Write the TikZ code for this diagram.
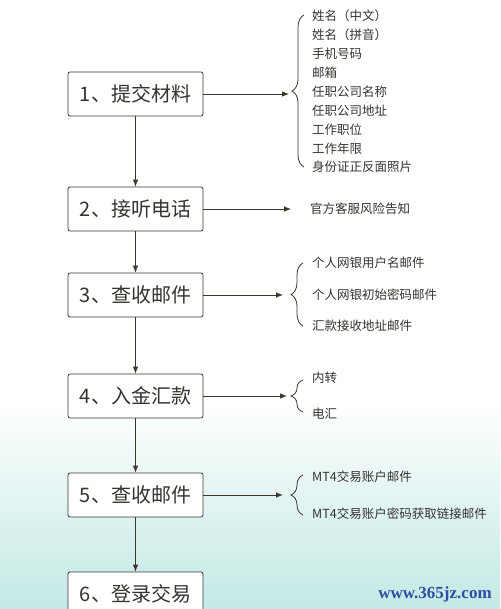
\documentclass[tikz,border=0pt]{standalone}
\usepackage{fontspec}
\newfontfamily\cjk{Noto Sans CJK SC}
\newfontfamily\wmfont{Liberation Serif}
\usetikzlibrary{arrows.meta,decorations.pathreplacing}
\definecolor{lineclr}{HTML}{3A372C}
\definecolor{txtclr}{HTML}{35342F}
\definecolor{topclr}{HTML}{CDF2EA}
\definecolor{botclr}{HTML}{9FDCD5}
\definecolor{wmclr}{HTML}{2D4FA3}
\pgfdeclareverticalshading{bgshade}{100bp}{color(0bp)=(botclr); color(18bp)=(botclr!85!white); color(30bp)=(botclr!45!white); color(42bp)=(white); color(78bp)=(white); color(100bp)=(topclr)}
\tikzset{
  stepbox/.style={draw=lineclr, line width=0.8pt, rounded corners=2pt, fill=white,
    minimum width=135pt, minimum height=44pt, inner sep=0pt,
    font=\cjk\fontsize{20}{24}\selectfont, text=txtclr},
  item/.style={anchor=west, inner sep=0pt, font=\cjk\fontsize{12.5}{15}\selectfont, text=txtclr},
  flow/.style={draw=lineclr, line width=0.8pt, -{Latex[length=7pt,width=5.5pt]}},
  curly/.style={draw=lineclr, line width=0.8pt, decorate, decoration={brace, amplitude=12pt}},
}
\begin{document}
\begin{tikzpicture}[x=1pt,y=-1pt]
    \useasboundingbox (0,0) rectangle (500,609);
    \fill[shading=bgshade] (0,0) rectangle (500,609);

    % steps
    \node[stepbox] (s1) at (135.5,94)  {1、提交材料};
    \node[stepbox] (s2) at (135.5,209) {2、接听电话};
    \node[stepbox] (s3) at (135.5,295) {3、查收邮件};
    \node[stepbox] (s4) at (135.5,396) {4、入金汇款};
    \node[stepbox] (s5) at (135.5,495) {5、查收邮件};
    \node[stepbox] (s6) at (135.5,594) {6、登录交易};
    \foreach \a/\b in {s1/s2,s2/s3,s3/s4,s4/s5,s5/s6}
        \draw[flow] (\a.south) -- (\b.north);

    % step 1
    \coordinate (a1) at (289,94);
    \draw[flow] (s1.east) -- (a1);
    \draw[curly] (304,167) -- (304,15);
    \foreach \txt [count=\i] in {姓名（中文）,姓名（拼音）,手机号码,邮箱,任职公司名称,任职公司地址,工作职位,工作年限,身份证正反面照片}
        \node[item] (m\i) at (312,{16+18.9*(\i-1)}) {\txt};

    % step 2
    \coordinate (a2) at (291,209);
    \draw[flow] (s2.east) -- (a2);
    \node[item] (n1) at (310,209) {官方客服风险告知};

    % step 3
    \coordinate (a3) at (283,295);
    \draw[flow] (s3.east) -- (a3);
    \draw[curly] (303,326) -- (303,263);
    \node[item] (p1) at (312,263) {个人网银用户名邮件};
    \node[item] (p2) at (312,295) {个人网银初始密码邮件};
    \node[item] (p3) at (312,326) {汇款接收地址邮件};

    % step 4
    \coordinate (a4) at (287,396);
    \draw[flow] (s4.east) -- (a4);
    \draw[curly] (303,412) -- (303,380);
    \node[item] (q1) at (312,378) {内转};
    \node[item] (q2) at (312,414) {电汇};

    % step 5
    \coordinate (a5) at (283,495);
    \draw[flow] (s5.east) -- (a5);
    \draw[curly] (303,515) -- (303,475);
    \node[item] (r1) at (312,477) {MT4交易账户邮件};
    \node[item] (r2) at (312,514) {MT4交易账户密码获取链接邮件};

    \node[text=wmclr, font=\wmfont\bfseries\fontsize{17}{20}\selectfont] (wm) at (435,594) {www.365jz.com};
\end{tikzpicture}
\end{document}
